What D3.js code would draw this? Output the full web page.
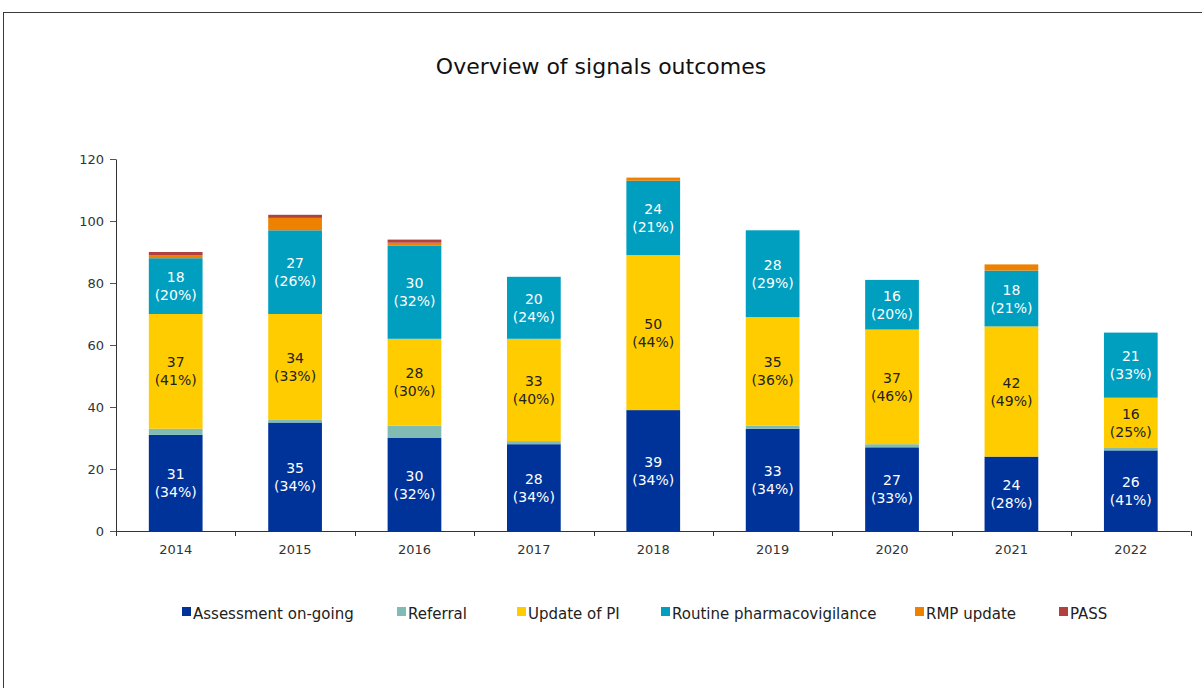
<!DOCTYPE html>
<html><head><meta charset="utf-8">
<script src="https://cdn.jsdelivr.net/npm/d3@7"></script>
<style>body{margin:0;background:#fff}svg{display:block}</style>
</head><body>
<script>
const years = ["2014","2015","2016","2017","2018","2019","2020","2021","2022"];
const seriesNames = ["Assessment on-going","Referral","Update of PI","Routine pharmacovigilance","RMP update","PASS"];
const assessment = [31,35,30,28,39,33,27,24,26];
const referral   = [2,1,4,1,0,1,1,0,1];
const updatePI   = [37,34,28,33,50,35,37,42,16];
const routine    = [18,27,30,20,24,28,16,18,21];
const rmp        = [1,4,1,0,1,0,0,2,0];
const pass       = [1,1,1,0,0,0,0,0,0];
const yTicks = [0,20,40,60,80,100,120];
const colors = ["#003399","#80BCB3","#FFCC00","#009EBF","#EE8100","#B0413E"];
const labelled = [true,false,true,true,false,false];
const labelColors = ["#ffffff",null,"#222222","#ffffff",null,null];

(function(){
const W=1202,H=688;
const svg=d3.select("body").append("svg").attr("width",W).attr("height",H);
svg.append("rect").attr("x",3.5).attr("y",12.5).attr("width",W+10).attr("height",H+10)
  .attr("fill","none").attr("stroke","#3a3a3a").attr("stroke-width",1);

svg.append("text").attr("x",601).attr("y",74).attr("text-anchor","middle")
  .attr("font-family","DejaVu Sans, Verdana, sans-serif").attr("font-size",22).attr("fill","#111")
  .text("Overview of signals outcomes");

const mLeft=116,mRight=1190.5,mTop=159,mBottom=531;
const x=d3.scaleBand().domain(years).range([mLeft,mRight]).paddingInner(0.55).paddingOuter(0.275);
const y=d3.scaleLinear().domain([0,120]).range([mBottom,mTop]);

const all=[assessment,referral,updatePI,routine,rmp,pass];
const rows=years.map((yr,i)=>{const o={year:yr};seriesNames.forEach((s,k)=>o[s]=all[k][i]);return o;});
const stacked=d3.stack().keys(seriesNames)(rows);
const totals=years.map((yr,i)=>d3.sum(all,a=>a[i]));

const g=svg.append("g");
stacked.forEach((layer,k)=>{
  g.selectAll(null).data(layer.filter(d=>d[1]>d[0])).enter().append("rect")
   .attr("x",d=>x(d.data.year)).attr("width",x.bandwidth())
   .attr("y",d=>y(d[1])).attr("height",d=>y(d[0])-y(d[1]))
   .attr("fill",colors[k]);
});
stacked.forEach((layer,k)=>{
  if(!labelled[k]) return;
  layer.forEach((d,i)=>{
    const v=d[1]-d[0]; if(v<=0) return;
    const cx=x(d.data.year)+x.bandwidth()/2, cy=(y(d[0])+y(d[1]))/2;
    const pct=Math.round(v/totals[i]*100);
    const t=g.append("text").attr("text-anchor","middle")
      .attr("font-family","DejaVu Sans, Verdana, sans-serif").attr("font-size",14)
      .attr("fill",labelColors[k]);
    t.append("tspan").attr("x",cx).attr("y",cy-4).text(v);
    t.append("tspan").attr("x",cx).attr("y",cy+14).text("("+pct+"%)");
  });
});

// y axis
const ya=svg.append("g").attr("transform",`translate(${mLeft},0)`)
  .call(d3.axisLeft(y).tickValues(yTicks).tickSize(6).tickPadding(6).tickSizeOuter(0));
ya.select(".domain").attr("stroke","#333");
ya.selectAll(".tick line").attr("stroke","#555");
ya.selectAll("text").attr("font-family","DejaVu Sans, Verdana, sans-serif").attr("font-size",13).attr("fill","#333");

// x axis
const xa=svg.append("g").attr("transform",`translate(0,${mBottom})`);
xa.append("line").attr("x1",mLeft).attr("x2",mRight).attr("y1",0.5).attr("y2",0.5).attr("stroke","#333");
const bounds=years.map(yr=>x(yr)-(x.step()-x.bandwidth())/2).concat([mRight]);
xa.selectAll(".bt").data(bounds).enter().append("line")
  .attr("x1",d=>Math.round(d)+0.5).attr("x2",d=>Math.round(d)+0.5).attr("y1",0).attr("y2",5).attr("stroke","#333");
xa.selectAll(".lbl").data(years).enter().append("text")
  .attr("x",d=>x(d)+x.bandwidth()/2).attr("y",23).attr("text-anchor","middle")
  .attr("font-family","DejaVu Sans, Verdana, sans-serif").attr("font-size",13).attr("fill","#333").text(d=>d);

// legend
const legX=[182,397,517,661,915,1059];
const lg=svg.append("g").attr("transform","translate(0,614)");
seriesNames.forEach((s,k)=>{
  lg.append("rect").attr("x",legX[k]).attr("y",-7).attr("width",9).attr("height",9).attr("fill",colors[k]);
  lg.append("text").attr("x",legX[k]+11).attr("y",5)
    .attr("font-family","DejaVu Sans, Verdana, sans-serif").attr("font-size",15).attr("fill","#222").text(s);
});
})();
</script>
</body></html>
